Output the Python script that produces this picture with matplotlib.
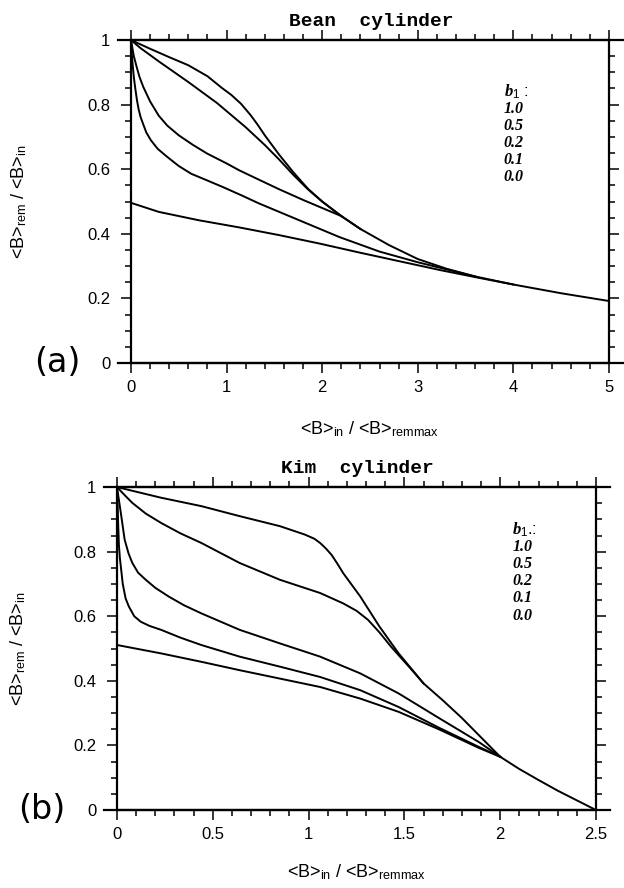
import matplotlib
matplotlib.use("Agg")
import matplotlib.pyplot as plt
from matplotlib.ticker import MultipleLocator, FuncFormatter

plt.rcParams["font.family"] = ["Liberation Sans", "DejaVu Sans"]
plt.rcParams["mathtext.fontset"] = "custom"
plt.rcParams["mathtext.rm"] = "Liberation Sans"
plt.rcParams["mathtext.it"] = "Liberation Serif:italic:bold"

# ---- data ----
b_values = ["1.0", "0.5", "0.2", "0.1", "0.0"]

# (a) Bean cylinder
bean_x_10 = [0, 0.2, 0.4, 0.6, 0.8, 0.95, 1.05, 1.15, 1.25, 1.32, 1.4, 1.55, 1.7,
             1.85, 2.0, 2.2, 2.4, 2.7, 3.0, 3.3, 3.6, 4.0, 4.5, 5.0]
bean_y_10 = [1.0, 0.973, 0.947, 0.922, 0.888, 0.852, 0.83, 0.803, 0.768, 0.74,
             0.705, 0.645, 0.59, 0.54, 0.5, 0.455, 0.415, 0.365, 0.322, 0.292,
             0.268, 0.243, 0.216, 0.192]
bean_x_05 = [0, 0.1, 0.3, 0.6, 0.9, 1.2, 1.4, 1.55, 1.7, 1.85, 2.0, 2.2, 2.4]
bean_y_05 = [1.0, 0.975, 0.932, 0.87, 0.805, 0.73, 0.675, 0.63, 0.582, 0.538,
             0.5, 0.455, 0.415]
bean_x_02 = [0, 0.015, 0.03, 0.06, 0.09, 0.13, 0.2, 0.29, 0.38, 0.5, 0.65, 0.8,
             1.0, 1.13, 1.35, 1.55, 1.8, 2.0, 2.2]
bean_y_02 = [1.0, 0.975, 0.95, 0.916, 0.885, 0.854, 0.81, 0.766, 0.735, 0.705,
             0.675, 0.648, 0.618, 0.597, 0.566, 0.538, 0.505, 0.48, 0.455]
bean_x_01 = [0, 0.01, 0.02, 0.03, 0.045, 0.063, 0.08, 0.1, 0.126, 0.16, 0.21,
             0.28, 0.38, 0.5, 0.63, 0.8, 0.96, 1.15, 1.34, 1.76, 2.18, 2.6, 3.0,
             3.3, 3.6]
bean_y_01 = [1.0, 0.95, 0.916, 0.885, 0.85, 0.813, 0.786, 0.762, 0.741, 0.714,
             0.689, 0.663, 0.638, 0.61, 0.586, 0.565, 0.545, 0.52, 0.494, 0.442,
             0.39, 0.345, 0.312, 0.29, 0.268]
bean_x_00 = [0, 0.29, 0.71, 1.13, 1.55, 1.97, 2.39, 2.81, 3.23, 3.6, 4.0]
bean_y_00 = [0.496, 0.468, 0.442, 0.42, 0.396, 0.37, 0.342, 0.315, 0.288, 0.266,
             0.243]

# (b) Kim cylinder
kim_x_10 = [0, 0.23, 0.44, 0.64, 0.85, 0.98, 1.03, 1.06, 1.09, 1.12, 1.15, 1.18,
            1.27, 1.37, 1.47, 1.6, 1.7, 1.8, 1.9, 2.0, 2.1, 2.2, 2.3, 2.4, 2.5]
kim_y_10 = [1.0, 0.967, 0.941, 0.91, 0.879, 0.853, 0.84, 0.827, 0.81, 0.79,
            0.763, 0.734, 0.661, 0.568, 0.485, 0.392, 0.34, 0.285, 0.225, 0.165,
            0.127, 0.093, 0.06, 0.03, 0.0]
kim_x_05 = [0, 0.04, 0.08, 0.15, 0.23, 0.33, 0.44, 0.64, 0.85, 1.06, 1.18, 1.25,
            1.31, 1.37, 1.43, 1.54, 1.6]
kim_y_05 = [1.0, 0.975, 0.951, 0.918, 0.889, 0.857, 0.827, 0.765, 0.713, 0.672,
            0.64, 0.617, 0.589, 0.55, 0.506, 0.433, 0.392]
kim_x_02 = [0, 0.01, 0.02, 0.04, 0.06, 0.08, 0.11, 0.15, 0.2, 0.27, 0.35, 0.44,
            0.64, 0.85, 1.06, 1.27, 1.47, 1.68, 1.89, 2.0]
kim_y_02 = [1.0, 0.96, 0.92, 0.837, 0.795, 0.765, 0.735, 0.713, 0.688, 0.661,
            0.634, 0.609, 0.558, 0.516, 0.475, 0.423, 0.361, 0.285, 0.21, 0.165]
kim_x_01 = [0, 0.003, 0.006, 0.01, 0.015, 0.02, 0.03, 0.045, 0.062, 0.09, 0.124,
            0.17, 0.23, 0.33, 0.44, 0.64, 0.85, 1.06, 1.27, 1.47, 1.68, 1.89, 2.0]
kim_y_01 = [1.0, 0.95, 0.889, 0.82, 0.78, 0.754, 0.70, 0.655, 0.63, 0.60, 0.583,
            0.57, 0.558, 0.534, 0.511, 0.475, 0.444, 0.412, 0.371, 0.319, 0.255,
            0.195, 0.165]
kim_x_00 = [0, 0.23, 0.44, 0.64, 0.85, 1.06, 1.27, 1.47, 1.68, 1.89, 2.0]
kim_y_00 = [0.511, 0.485, 0.459, 0.433, 0.407, 0.381, 0.345, 0.304, 0.25,
            0.192, 0.165]

bean_curves = [(bean_x_10, bean_y_10), (bean_x_05, bean_y_05), (bean_x_02, bean_y_02),
               (bean_x_01, bean_y_01), (bean_x_00, bean_y_00)]
kim_curves = [(kim_x_10, kim_y_10), (kim_x_05, kim_y_05), (kim_x_02, kim_y_02),
              (kim_x_01, kim_y_01), (kim_x_00, kim_y_00)]

YLABEL = r"<B>$_{\mathrm{rem}}$ / <B>$_{\mathrm{in}}$"
XLABEL = r"<B>$_{\mathrm{in}}$ / <B>$_{\mathrm{remmax}}$"


def draw_panel(ax, curves, title, xmax, xmajor, xminor, legend_head, legend_x,
               legend_y, ylab_x, xlab_y):
    for x, y in curves:
        ax.plot(x, y, color="black", lw=1.4, solid_joinstyle="round")

    ax.set_xlim(0, xmax)
    ax.set_ylim(0, 1)
    ax.xaxis.set_major_locator(MultipleLocator(xmajor))
    ax.xaxis.set_minor_locator(MultipleLocator(xminor))
    ax.yaxis.set_major_locator(MultipleLocator(0.2))
    ax.yaxis.set_minor_locator(MultipleLocator(0.05))
    fmt = FuncFormatter(lambda v, p: f"{v:g}")
    ax.xaxis.set_major_formatter(fmt)
    ax.yaxis.set_major_formatter(fmt)

    ax.tick_params(which="both", direction="out", top=True, right=True,
                   width=1.1, color="black")
    ax.tick_params(which="major", length=7, labelsize=12)
    ax.tick_params(axis="x", which="major", pad=5)
    ax.tick_params(axis="y", which="major", pad=8)
    ax.tick_params(which="minor", length=4)
    for sp in ax.spines.values():
        sp.set_linewidth(1.6)

    # top and bottom frame lines run a little past the side spines
    for yy in (0, 1):
        ax.plot([-0.027, 1.03], [yy, yy], transform=ax.transAxes, color="black",
                lw=1.6, clip_on=False)

    ax.text(0.502, 1.045, title, transform=ax.transAxes, ha="center",
            va="baseline", fontsize=14, fontweight="bold",
            family="Liberation Mono")

    ax.text(legend_x, legend_y, legend_head, transform=ax.transAxes,
            ha="left", va="center", fontsize=12)
    for i, b in enumerate(b_values):
        ax.text(legend_x, legend_y - 0.053 * (i + 1), b, transform=ax.transAxes,
                ha="left", va="center", fontsize=11.5, fontstyle="italic",
                fontweight="bold", family="Liberation Serif")

    ax.set_ylabel(YLABEL, fontsize=13, va="center")
    ax.yaxis.set_label_coords(ylab_x, 0.5)
    ax.set_xlabel(XLABEL, fontsize=13, va="baseline")
    ax.xaxis.set_label_coords(0.5, xlab_y)


fig = plt.figure(figsize=(6.24, 8.88), dpi=100)
ax_a = fig.add_axes([0.2099, 0.5912, 0.766, 0.3637])
ax_b = fig.add_axes([0.1875, 0.0878, 0.7676, 0.3637])

draw_panel(ax_a, bean_curves, "Bean  cylinder", 5, 1, 0.2,
           r"$\mathit{b_1}$ :", 0.78, 0.84, -0.235, -0.22)
draw_panel(ax_b, kim_curves, "Kim  cylinder", 2.5, 0.5, 0.1,
           r"$\mathit{b_1}$.:", 0.825, 0.867, -0.207, -0.207)

fig.text(0.0913, 0.5923, "(a)", ha="center", va="center", fontsize=24,
         family="DejaVu Sans")
fig.text(0.067, 0.088, "(b)", ha="center", va="center", fontsize=24,
         family="DejaVu Sans")

fig.savefig("out.png", dpi=100, facecolor="white")
plt.close(fig)
